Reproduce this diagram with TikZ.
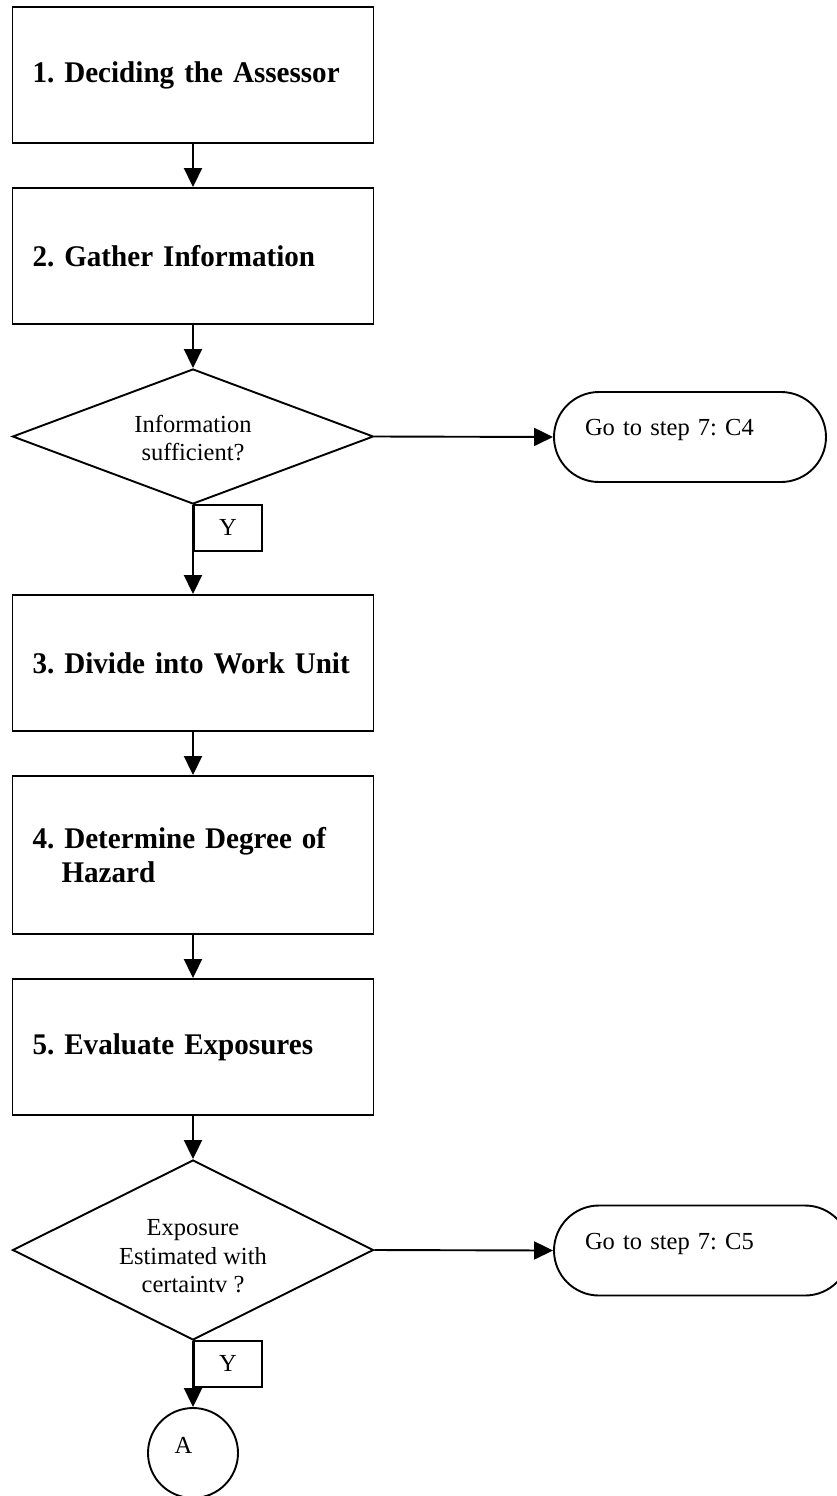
\documentclass[tikz,border=0pt]{standalone}
\usepackage{fontspec}
\setmainfont{Liberation Serif}[BoldFeatures={FakeStretch=0.97}]
\usetikzlibrary{shapes.geometric,arrows.meta}
\tikzset{
  base/.style={draw=black, line width=1.9pt, fill=white},
  stepbox/.style={base, rectangle, minimum width=361pt, minimum height=136pt,
    inner xsep=20pt, inner ysep=0pt, text width=321pt, align=left,
    font=\bfseries\fontsize{30}{34}\selectfont},
  decision/.style={base, diamond, inner sep=0pt, minimum width=361pt, align=center,
    font=\fontsize{24.5}{28.5}\selectfont},
  term/.style={base, rectangle, rounded corners=45pt, minimum height=90pt,
    inner xsep=31pt, inner ysep=0pt, align=left, text height=17pt, text depth=20pt,
    font=\fontsize{24.5}{28.5}\selectfont},
  ybox/.style={base, rectangle, minimum width=68pt, minimum height=46pt, inner sep=0pt,
    font=\fontsize{24.5}{28.5}\selectfont},
  conn/.style={base, circle, minimum size=90pt, inner sep=0pt,
    text height=17pt, text depth=17pt, font=\fontsize{24.5}{28.5}\selectfont},
  arr/.style={line width=1.9pt, -{Triangle[length=19pt,width=18pt]}}
}
\begin{document}
\frenchspacing
\begin{tikzpicture}[x=1pt,y=-1pt]
\useasboundingbox (0,0) rectangle (837,1496);
\clip (0,0) rectangle (837,1496);
\node[stepbox] (b1) at (193,75) {\mbox{1. Deciding the Assessor}};
\node[stepbox] (b2) at (193,256) {\mbox{2. Gather Information}};
\node[decision, minimum height=135pt, aspect=2.67] (d1) at (193,436.5) {\rule{0pt}{20pt}Information\\sufficient?};
\node[term, minimum width=272pt, text width=210pt] (t1) at (690,437) {Go to step 7: C4};
\node[ybox, anchor=north west] (y1) at (193,504) {Y};
\node[stepbox] (b3) at (193,663) {\mbox{3. Divide into Work Unit}};
\node[stepbox, minimum height=158pt] (b4) at (193,855) {4. Determine Degree of\\\hspace*{29pt}Hazard};
\node[stepbox] (b5) at (193,1047) {\mbox{5. Evaluate Exposures}};
\node[decision, minimum height=180pt, aspect=2] (d2) at (193,1250) {\rule{0pt}{29pt}Exposure\\Estimated with\\certaintv ?};
\node[term, minimum width=296pt, text width=234pt] (t2) at (702,1250.5) {Go to step 7: C5};
\node[ybox, anchor=north west] (y2) at (193,1340) {Y};
\node[conn] (ca) at (193,1453) {\makebox[36.7pt][l]{A}};
\draw[arr] (b1.south) -- (b2.north);
\draw[arr] (b2.south) -- (d1.north);
\draw[arr] (d1.east) -- (t1.west);
\draw[arr] (d1.south) -- (b3.north);
\draw[arr] (b3.south) -- (b4.north);
\draw[arr] (b4.south) -- (b5.north);
\draw[arr] (b5.south) -- (d2.north);
\draw[arr] (d2.east) -- (t2.west);
\draw[arr] (d2.south) -- (ca.north);
\end{tikzpicture}
\end{document}
